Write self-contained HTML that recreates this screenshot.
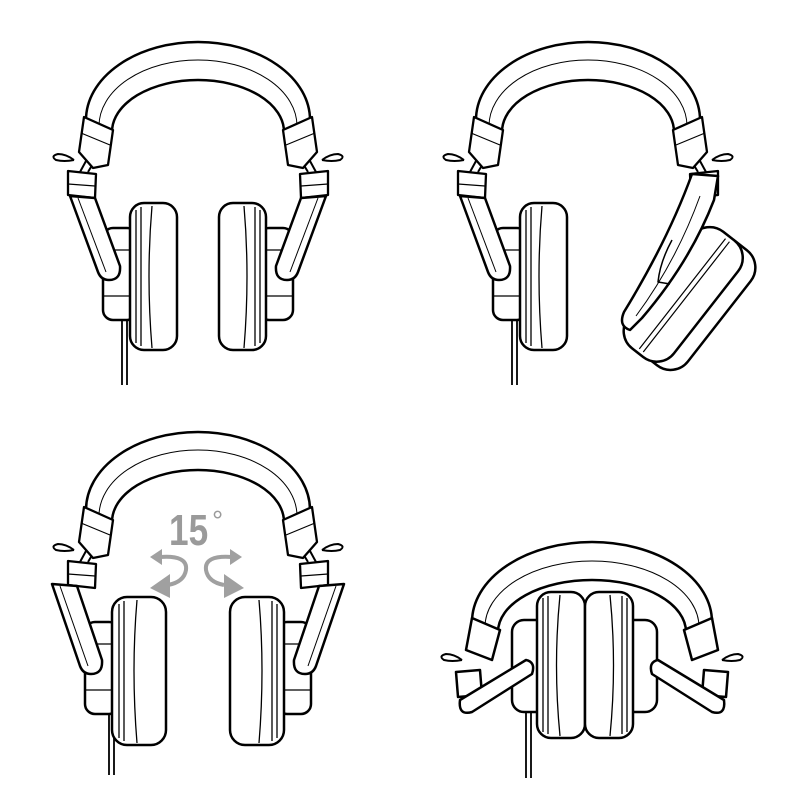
<!DOCTYPE html>
<html><head><meta charset="utf-8"><style>html,body{margin:0;padding:0;background:#fff}svg{display:block}</style></head>
<body>
<svg width="800" height="800" viewBox="0 0 800 800" xmlns="http://www.w3.org/2000/svg">
<defs>
<g id="band" fill="#fff" stroke="#000" stroke-width="2.5" stroke-linejoin="round">
 <path d="M86,120 A112,78 0 0 1 310,120 L284,132 A86,52 0 0 0 112,132 Z"/>
 <path d="M99,126 A99,66 0 0 1 297,126" fill="none" stroke-width="1"/>
</g>
<g id="sl" fill="#fff" stroke="#000" stroke-width="2.3" stroke-linejoin="round">
 <path d="M92,150 L80,172 M100,152 L88,172" fill="none" stroke-width="2"/>
 <path d="M74,160 q-8,-6 -16,-6 q-8,2 -2,6 q8,2 18,0" fill="#fff" stroke-width="2"/>
 <path d="M84,117 L113,130 L108,165 L93,168 L79,152 Z"/>
 <path d="M81,133 L110,145" fill="none" stroke-width="1.2"/>
 <path d="M68,171 L96,174 L95,198 L68,195 Z"/>
 <path d="M68,184 L95,186" fill="none" stroke-width="1.2"/>
</g>
<g id="cp" fill="#fff" stroke="#000" stroke-width="2.5" stroke-linejoin="round">
 <rect x="103" y="228" width="34" height="92" rx="10"/>
 <path d="M103,250 L130,250 M103,296 L130,296" fill="none" stroke-width="1.2"/>
 <path d="M70,196 L95,198 L120,266 Q121,280 109,280 Q101,280 98,272 Z"/>
 <path d="M78,198 L106,272" fill="none" stroke-width="1"/>
 <rect x="130" y="203" width="47" height="147" rx="14"/>
 <path d="M136,210 L136,343 M141,207 L141,346" fill="none" stroke-width="1.3"/>
 <path d="M152,206 Q146,276 152,348" fill="none" stroke-width="1.3"/>
</g>
<g id="cp2" fill="#fff" stroke="#000" stroke-width="2.5" stroke-linejoin="round">
 <rect x="103" y="228" width="34" height="92" rx="10"/>
 <path d="M103,250 L130,250 M103,296 L130,296" fill="none" stroke-width="1.2"/>
 <path d="M70,190 L95,192 L120,266 Q121,280 109,280 Q101,280 98,272 Z"/>
 <path d="M78,192 L106,272" fill="none" stroke-width="1"/>
 <rect x="130" y="203" width="54" height="148" rx="15"/>
 <path d="M137,210 L137,344 M142,207 L142,347" fill="none" stroke-width="1.3"/>
 <path d="M155,206 Q149,276 155,349" fill="none" stroke-width="1.3"/>
</g>
<g id="cable" stroke="#000" fill="none" stroke-width="1.8">
 <path d="M122,318 L122,385 M127,318 L127,385"/>
</g>
</defs>

<!-- Top-left -->
<use href="#band"/>
<use href="#cable"/>
<use href="#sl"/><use href="#cp"/>
<g transform="translate(396,0) scale(-1,1)"><use href="#sl"/><use href="#cp"/></g>

<!-- Top-right -->
<g transform="translate(390,0)">
 <use href="#band"/>
 <use href="#cable"/>
 <use href="#sl"/><use href="#cp"/>
 <g transform="translate(396,0) scale(-1,1)"><use href="#sl"/></g>
</g>
<g fill="#fff" stroke="#000" stroke-width="2.5" stroke-linejoin="round">
 <g transform="translate(684,295) rotate(-52)">
  <rect x="-72" y="-14" width="146" height="58" rx="22"/>
  <rect x="-74" y="-30" width="148" height="58" rx="22"/>
  <path d="M-70,-2 L70,-2 M-70,3 L70,3" fill="none" stroke-width="1.2"/>
 </g>
 <path d="M692,174 L718,176 L714,200 Q690,262 642,318 L630,330 Q618,326 624,312 Q668,240 692,174 Z"/>
 <path d="M700,196 Q676,262 636,316" fill="none" stroke-width="1"/>
 <path d="M672,240 Q660,262 658,282 L670,284" fill="none" stroke-width="1.5"/>
</g>

<!-- Bottom-left -->
<g transform="translate(0,390)">
 <use href="#band"/>
 <use href="#sl"/>
 <g transform="translate(396,0) scale(-1,1)"><use href="#sl"/></g>
 <g stroke="#000" fill="none" stroke-width="1.8"><path d="M109,320 L109,385 M114,320 L114,385"/></g>
</g>
<g transform="translate(-18,394)"><use href="#cp2"/></g>
<g transform="translate(414,394) scale(-1,1)"><use href="#cp2"/></g>
<text x="169" y="545" font-family="Liberation Sans, sans-serif" font-weight="bold" font-size="44" fill="#9a9a9a" transform="translate(169,545) scale(0.8,1) translate(-169,-545)">15</text>
<text x="212" y="530" font-family="Liberation Sans, sans-serif" font-size="28" fill="#9a9a9a">°</text>
<g fill="none" stroke="#a0a0a0" stroke-width="4">
 <path d="M160,557 Q188,555 186,570 Q184,582 168,585"/>
 <path d="M232,557 Q204,555 206,570 Q208,582 224,585"/>
</g>
<g fill="#a0a0a0">
 <path d="M150,557 L162,549 L162,565 Z"/>
 <path d="M150,588 L170,574 L170,598 Z"/>
 <path d="M242,557 L230,549 L230,565 Z"/>
 <path d="M244,588 L224,574 L224,598 Z"/>
</g>

<!-- Bottom-right -->
<g fill="#fff" stroke="#000" stroke-width="2.5" stroke-linejoin="round">
 <path d="M472,622 A120,80 0 0 1 712,622 L686,632 A94,52 0 0 0 498,632 Z"/>
 <path d="M485,627 A107,66 0 0 1 699,627" fill="none" stroke-width="1"/>
 <path d="M472,618 L500,630 L492,660 L466,650 Z"/>
 <path d="M712,618 L684,630 L692,660 L718,650 Z"/>
 <path d="M462,660 q-8,-6 -16,-6 q-8,2 -2,6 q8,2 18,0" stroke-width="2"/>
 <path d="M722,660 q8,-6 16,-6 q8,2 2,6 q-8,2 -18,0" stroke-width="2"/>
 <path d="M456,672 L480,670 L482,695 L458,697 Z"/>
 <path d="M728,672 L704,670 L702,695 L726,697 Z"/>
 <rect x="512" y="620" width="145" height="92" rx="12"/>
 <path d="M460,700 L526,660 Q536,662 532,674 L472,712 Q458,716 460,700 Z"/>
 <path d="M724,700 L658,660 Q648,662 652,674 L712,712 Q726,716 724,700 Z"/>
 <rect x="537" y="592" width="48" height="146" rx="14"/>
 <rect x="585" y="592" width="48" height="146" rx="14"/>
 <path d="M543,598 L543,732 M548,596 L548,734 M627,598 L627,732 M622,596 L622,734" fill="none" stroke-width="1.3"/>
 <path d="M560,595 Q553,665 560,736 M610,595 Q617,665 610,736" fill="none" stroke-width="1.3"/>
</g>
<g stroke="#000" fill="none" stroke-width="1.8"><path d="M526,712 L526,778 M531,712 L531,778"/></g>
</svg>
</body></html>
